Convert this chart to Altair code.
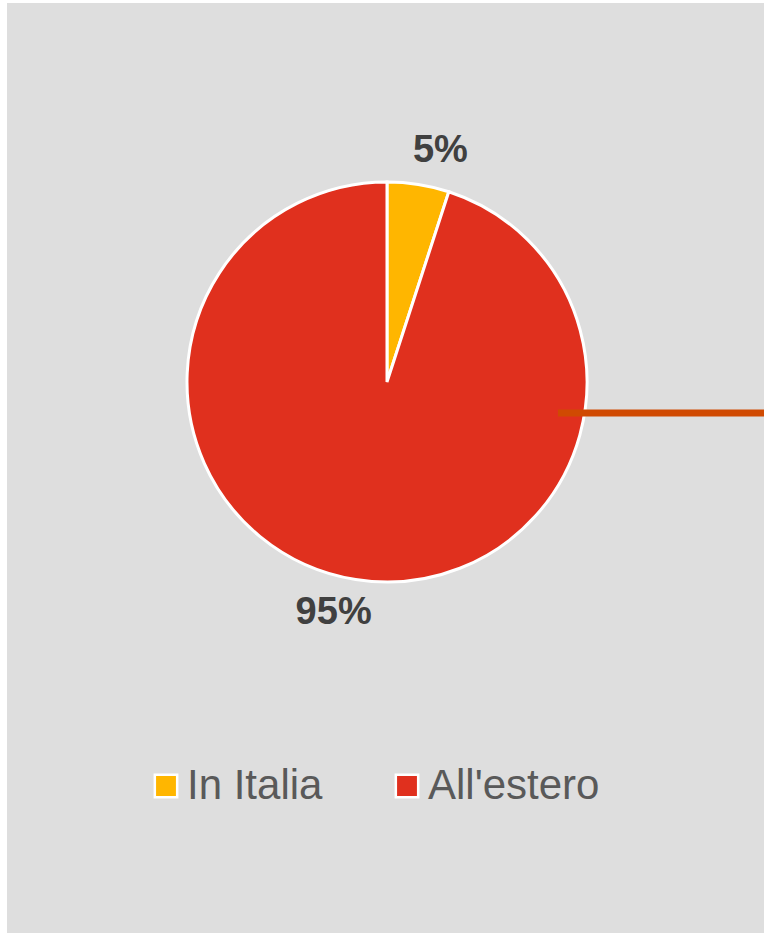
import altair as alt
import pandas as pd

categories = ["In Italia", "All'estero"]
values = [5, 95]
labels = ["5%", "95%"]
colors = ["#FFB600", "#E0301E"]

df = pd.DataFrame({"cat": categories, "val": values, "lab": labels, "idx": list(range(len(categories)))})

W, H = 764, 935
CX, CY, R = 387, 382, 200

bg = alt.Chart(pd.DataFrame({"a": [0]})).mark_rect(color="#DEDEDE").encode(
    x=alt.value(7), x2=alt.value(W), y=alt.value(3), y2=alt.value(933)
)

base = alt.Chart(df).encode(
    theta=alt.Theta("val:Q", stack=True),
    order=alt.Order("idx:Q"),
)

pie = base.mark_arc(stroke="white", strokeWidth=3, x=CX, y=CY, outerRadius=R).encode(
    color=alt.Color(
        "cat:N",
        scale=alt.Scale(domain=categories, range=colors),
        sort=categories,
        legend=alt.Legend(
            title=None,
            orient="none",
            direction="horizontal",
            legendX=145,
            legendY=765,
            symbolType="square",
            symbolSize=500,
            symbolStrokeColor="white",
            symbolStrokeWidth=2.5,
            symbolOpacity=1,
            labelFontSize=42,
            labelFont="Liberation Sans",
            labelColor="#595959",
            labelOffset=0,
            columnPadding=63,
            padding=0,
            labelLimit=400,
        ),
    )
)

text = base.mark_text(
    x=CX, y=CY, radius=237, thetaOffset=0.07,
    fontSize=38, fontWeight="bold", font="Liberation Sans", color="#404040",
).encode(text="lab:N")

line = alt.Chart(pd.DataFrame({"a": [0]})).mark_rule(color="#D04A02", strokeWidth=7).encode(
    x=alt.value(558), x2=alt.value(W), y=alt.value(413)
)

chart = alt.layer(bg, pie, text, line).properties(
    width=W, height=H,
    autosize=alt.AutoSizeParams(type="none"),
    padding=0,
    background="white",
).configure_view(stroke=None)

chart.save("out.html", embed_options={"renderer": "svg", "actions": False})
